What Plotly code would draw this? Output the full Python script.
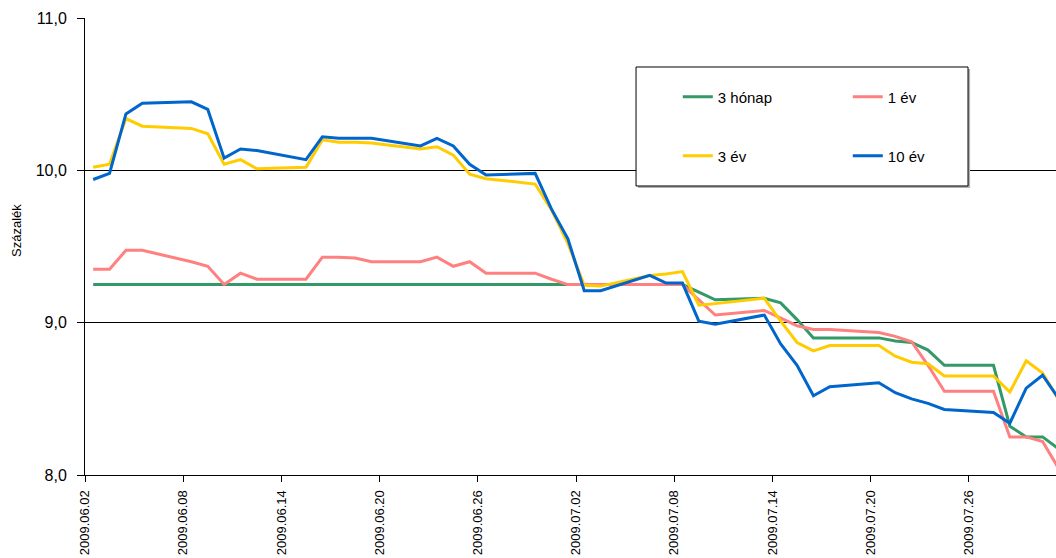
import pandas as pd
import plotly.graph_objects as go

dates = ["2009-06-02", "2009-06-03", "2009-06-04", "2009-06-05", "2009-06-08", "2009-06-09",
         "2009-06-10", "2009-06-11", "2009-06-12", "2009-06-15", "2009-06-16", "2009-06-17",
         "2009-06-18", "2009-06-19", "2009-06-22", "2009-06-23", "2009-06-24", "2009-06-25",
         "2009-06-26", "2009-06-29", "2009-06-30", "2009-07-01", "2009-07-02", "2009-07-03",
         "2009-07-06", "2009-07-07", "2009-07-08", "2009-07-09", "2009-07-10", "2009-07-13",
         "2009-07-14", "2009-07-15", "2009-07-16", "2009-07-17", "2009-07-20", "2009-07-21",
         "2009-07-22", "2009-07-23", "2009-07-24", "2009-07-27", "2009-07-28", "2009-07-29",
         "2009-07-30", "2009-07-31"]

honap3 = [9.25, 9.25, 9.25, 9.25, 9.25, 9.25, 9.25, 9.25, 9.25, 9.25, 9.25, 9.25,
          9.25, 9.25, 9.25, 9.25, 9.25, 9.25, 9.25, 9.25, 9.25, 9.25, 9.25, 9.25,
          9.25, 9.25, 9.25, 9.20, 9.15, 9.16, 9.13, 9.02, 8.90, 8.90, 8.90, 8.88,
          8.87, 8.82, 8.72, 8.72, 8.32, 8.25, 8.25, 8.17]

ev1 = [9.35, 9.35, 9.475, 9.475, 9.40, 9.37, 9.25, 9.325, 9.285, 9.285, 9.43, 9.43,
       9.425, 9.40, 9.40, 9.43, 9.37, 9.40, 9.325, 9.325, 9.285, 9.25, 9.25, 9.25,
       9.25, 9.25, 9.25, 9.15, 9.05, 9.08, 9.03, 8.98, 8.955, 8.955, 8.935, 8.91,
       8.875, 8.72, 8.55, 8.55, 8.25, 8.25, 8.22, 8.04]

ev3 = [10.02, 10.04, 10.34, 10.29, 10.275, 10.24, 10.04, 10.07, 10.01, 10.02, 10.20, 10.185,
       10.185, 10.18, 10.14, 10.155, 10.10, 9.975, 9.945, 9.91, 9.74, 9.52, 9.245, 9.24,
       9.31, 9.32, 9.335, 9.115, 9.125, 9.16, 9.01, 8.87, 8.815, 8.85, 8.85, 8.78,
       8.74, 8.73, 8.65, 8.65, 8.545, 8.75, 8.67, 8.49]

ev10 = [9.94, 9.98, 10.37, 10.44, 10.45, 10.40, 10.08, 10.14, 10.13, 10.07, 10.22, 10.21,
        10.21, 10.21, 10.16, 10.21, 10.16, 10.04, 9.97, 9.98, 9.745, 9.55, 9.21, 9.21,
        9.31, 9.26, 9.26, 9.01, 8.99, 9.05, 8.86, 8.72, 8.52, 8.58, 8.605, 8.54,
        8.50, 8.47, 8.43, 8.41, 8.34, 8.57, 8.655, 8.50]

series_names = ["3 hónap", "1 év", "3 év", "10 év"]
y_ticks = [8, 9, 10, 11]

# points sit in the middle of each day (date axis, values between tick marks)
x = pd.to_datetime(dates) + pd.Timedelta(hours=12)

FONT = "Liberation Sans, Arial, sans-serif"

fig = go.Figure()
specs = [
    (honap3, series_names[0], "#339966", "legend"),
    (ev1, series_names[1], "#FF8080", "legend"),
    (ev3, series_names[2], "#FFCC00", "legend2"),
    (ev10, series_names[3], "#0066CC", "legend2"),
]
for vals, name, color, lg in specs:
    fig.add_trace(go.Scatter(x=x, y=vals, mode="lines", name=name,
                             line=dict(color=color, width=3), legend=lg))

legend_common = dict(orientation="h", xanchor="left", yanchor="middle",
                     bgcolor="rgba(0,0,0,0)", borderwidth=0,
                     font=dict(family=FONT, size=15, color="black", weight="normal"),
                     entrywidth=125, entrywidthmode="pixels", traceorder="normal")

fig.update_layout(
    width=1056, height=558,
    margin=dict(l=85, r=0, t=18, b=83, autoexpand=False),
    paper_bgcolor="white", plot_bgcolor="white",
    separators=", ",
    showlegend=True,
    legend=dict(x=0.6105, y=0.827, **legend_common),
    legend2=dict(x=0.6105, y=0.698, **legend_common),
    font=dict(family=FONT, color="black", weight="normal"),
)

fig.update_xaxes(
    type="date",
    range=["2009-06-02 00:00", "2009-07-31 07:40"],
    tick0="2009-06-02", dtick=6 * 86400000,
    tickformat="%Y.%m.%d", tickangle=-90,
    tickfont=dict(family=FONT, size=13, color="black"),
    ticks="outside", ticklen=6, tickcolor="black", ticklabelstandoff=3,
    showline=True, linecolor="black", linewidth=1,
    showgrid=False, zeroline=False, automargin=False,
)
fig.update_yaxes(
    range=[8, 11], tickvals=y_ticks, tickformat=".1f",
    tickfont=dict(family=FONT, size=16, color="black"),
    ticks="outside", ticklen=7, tickcolor="black", ticklabelstandoff=7,
    showline=True, linecolor="black", linewidth=1,
    showgrid=True, gridcolor="black", gridwidth=1,
    zeroline=False, automargin=False,
)

fig.add_annotation(text="Százalék", xref="paper", yref="paper", x=-0.070, y=0.534,
                   xanchor="center", yanchor="middle",
                   textangle=-90, showarrow=False,
                   font=dict(family=FONT, size=13, color="black"))

# legend frame with a faint drop shadow
fig.add_shape(type="rect", xref="paper", yref="paper",
              x0=0.5696, x1=0.9115, y0=0.6280, y1=0.8884,
              fillcolor="#B0B0B0", line=dict(width=0), layer="above")
fig.add_shape(type="rect", xref="paper", yref="paper",
              x0=0.5675, x1=0.9094, y0=0.6324, y1=0.8928,
              fillcolor="white", line=dict(color="black", width=1), layer="above")

# remove the default page margin so the 1056x558 figure fills the window exactly
fig.write_html("out.html",
               config={"displayModeBar": False},
               post_script="document.body.style.margin='0';"
                           "document.body.style.overflow='hidden';")
